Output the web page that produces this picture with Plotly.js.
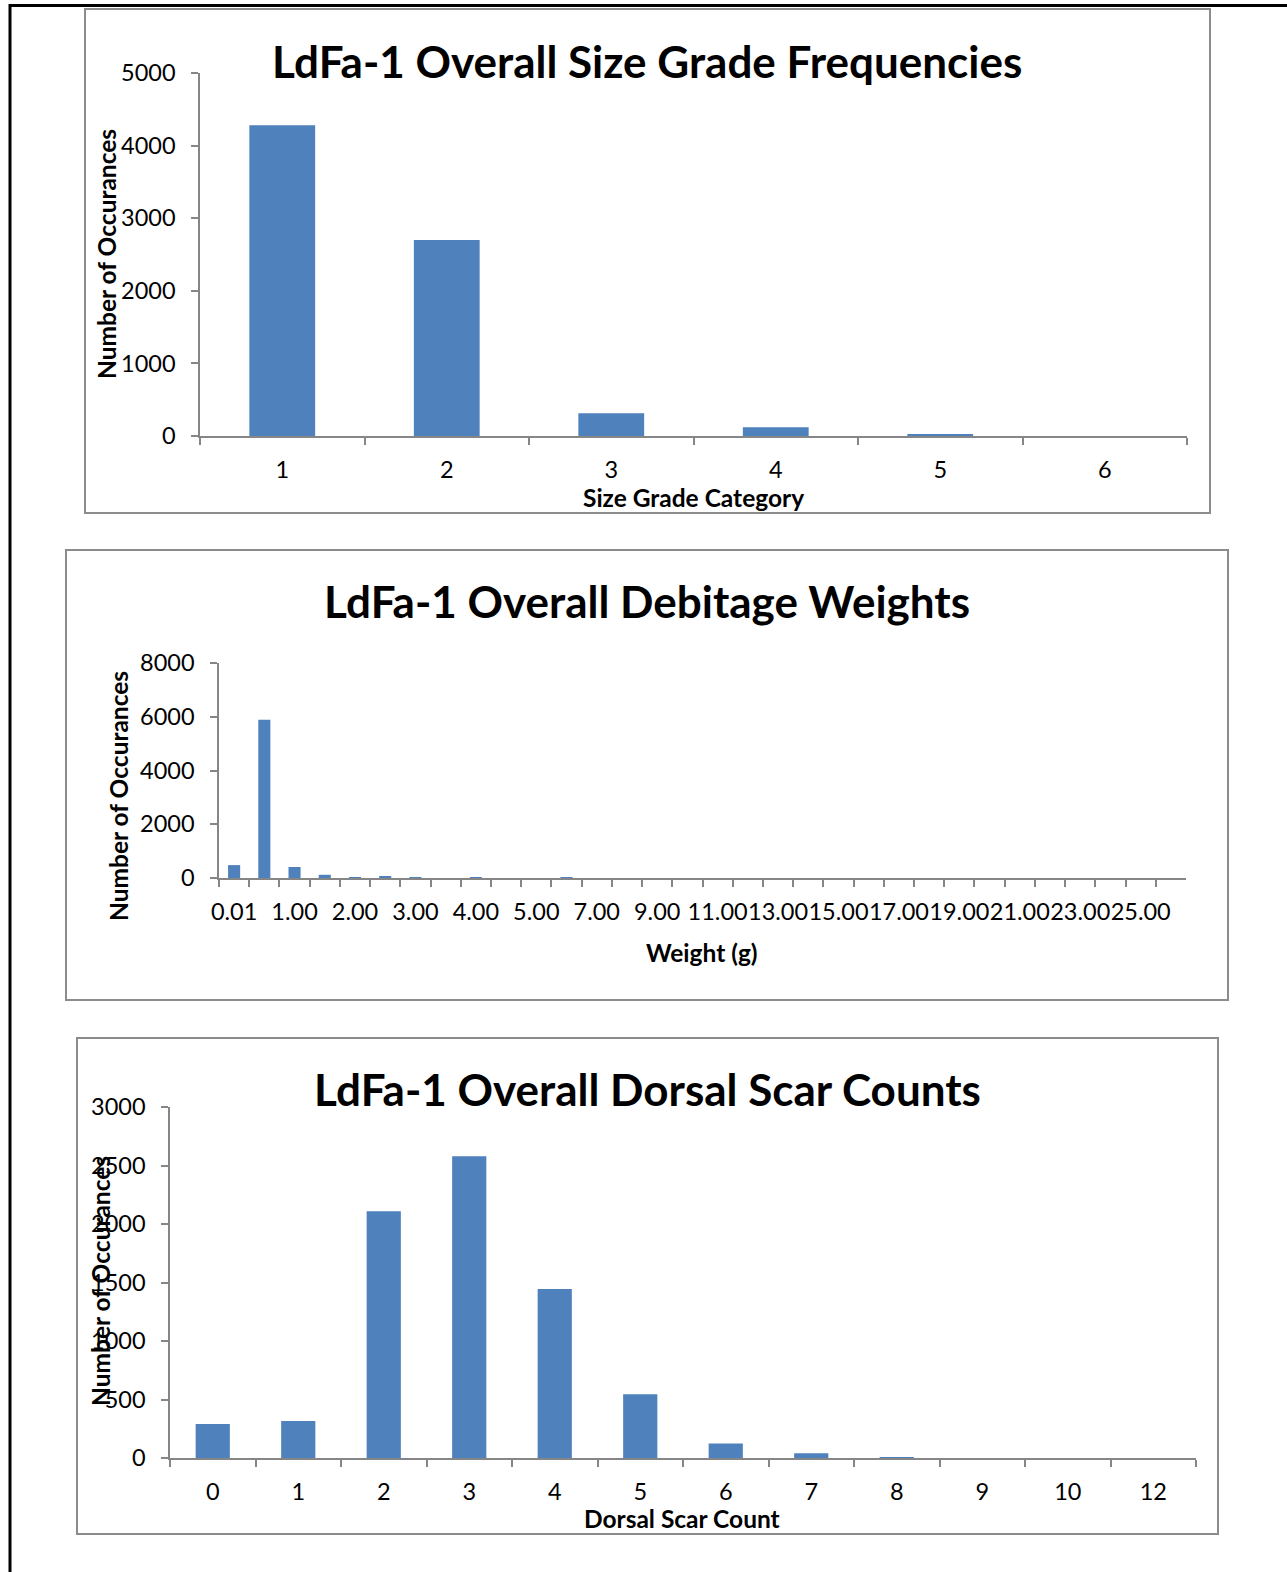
<!DOCTYPE html>
<html>
<head>
<meta charset="utf-8">
<script src="https://cdn.plot.ly/plotly-3.0.1.min.js"></script>
<style>
  html, body { margin: 0; padding: 0; background: #ffffff; }
  #chart { width: 1287px; height: 1572px; }
</style>
</head>
<body>
<div id="chart"></div>
<script>
// ---------- DATA ----------
const sizeGradeCategories = ['1', '2', '3', '4', '5', '6'];
const sizeGradeCounts = [4280, 2700, 315, 120, 25, 0];

const weightCategories = ['0.01', '0.50', '1.00', '1.50', '2.00', '2.50', '3.00', '3.50',
  '4.00', '4.50', '5.00', '6.00', '7.00', '8.00', '9.00', '10.00', '11.00', '12.00',
  '13.00', '14.00', '15.00', '16.00', '17.00', '18.00', '19.00', '20.00', '21.00',
  '22.00', '23.00', '24.00', '25.00', 'More'];
const weightCounts = [480, 5890, 410, 120, 35, 45, 35, 0, 8, 0, 0, 6, 0, 0, 0, 0, 0, 0,
  0, 0, 0, 0, 0, 0, 0, 0, 0, 0, 0, 0, 0, 0];
const weightTickLabels = ['0.01', '', '1.00', '', '2.00', '', '3.00', '', '4.00', '',
  '5.00', '', '7.00', '', '9.00', '', '11.00', '', '13.00', '', '15.00', '', '17.00', '',
  '19.00', '', '21.00', '', '23.00', '', '25.00', ''];

const scarCategories = ['0', '1', '2', '3', '4', '5', '6', '7', '8', '9', '10', '12'];
const scarCounts = [290, 317, 2110, 2580, 1445, 545, 125, 40, 8, 0, 0, 0];

const chartTitles = ['LdFa-1 Overall Size Grade Frequencies', 'LdFa-1 Overall Debitage Weights', 'LdFa-1 Overall Dorsal Scar Counts'];
const xTitles = ['Size Grade Category', 'Weight (g)', 'Dorsal Scar Count'];
const yTitle = 'Number of Occurances';

// ---------- LAYOUT HELPERS ----------
const W = 1287, H = 1572;
const px = x => x / W;
const py = y => 1 - y / H;

const FONT = 'Lato, "Open Sans", "Liberation Sans", sans-serif';
const BAR = '#4F81BD';
const AX = '#868686';

function yax(dom, range, dtick, anchor) {
  return {
    domain: dom, range: range, dtick: dtick, tick0: 0, anchor: anchor,
    showline: true, linecolor: AX, linewidth: 1.5,
    ticks: 'outside', ticklen: 7, tickcolor: AX, tickwidth: 1.5,
    showgrid: false, zeroline: false, fixedrange: true,
    tickfont: { family: FONT, size: 23.5, color: '#000' },
    ticklabelstandoff: 11
  };
}
function xax(dom, anchor, extra) {
  return Object.assign({
    domain: dom, anchor: anchor, type: 'category',
    showline: true, linecolor: AX, linewidth: 2,
    ticks: 'outside', ticklen: 7, tickcolor: AX, tickwidth: 1.5,
    tickson: 'boundaries', tickangle: 0,
    showgrid: false, zeroline: false, fixedrange: true,
    tickfont: { family: FONT, size: 23.5, color: '#000' },
    ticklabelstandoff: 12
  }, extra || {});
}

const traces = [
  { type: 'bar', x: sizeGradeCategories, y: sizeGradeCounts, xaxis: 'x', yaxis: 'y',
    marker: { color: BAR }, hoverinfo: 'x+y' },
  { type: 'bar', x: weightCategories, y: weightCounts, xaxis: 'x2', yaxis: 'y2',
    marker: { color: BAR }, hoverinfo: 'x+y' },
  { type: 'bar', x: scarCategories, y: scarCounts, xaxis: 'x3', yaxis: 'y3',
    marker: { color: BAR }, hoverinfo: 'x+y' }
];

const boxLine = { color: '#8c8c8c', width: 2 };
const shapes = [
  { type: 'rect', xref: 'paper', yref: 'paper', x0: px(85), x1: px(1210), y0: py(513), y1: py(9), line: boxLine },
  { type: 'rect', xref: 'paper', yref: 'paper', x0: px(66), x1: px(1228), y0: py(1000), y1: py(550), line: boxLine },
  { type: 'rect', xref: 'paper', yref: 'paper', x0: px(77), x1: px(1218), y0: py(1534), y1: py(1038), line: boxLine },
  { type: 'path', xref: 'paper', yref: 'paper',
    path: `M ${px(10)} ${py(1572)} L ${px(10)} ${py(5.5)} L ${px(1287)} ${py(5.5)}`,
    line: { color: '#000', width: 3 } }
];

function ann(text, x, y, size, bold, rot) {
  return { text: bold ? '<b>' + text + '</b>' : text, xref: 'paper', yref: 'paper',
    x: px(x), y: py(y), xanchor: 'center', yanchor: 'middle', showarrow: false,
    textangle: rot || 0, font: { family: FONT, size: size, color: '#000' } };
}

const annotations = [
  ann(chartTitles[0], 647, 61, 44, true),
  ann(chartTitles[1], 647, 601, 44, true),
  ann(chartTitles[2], 647, 1089, 44, true),
  ann(xTitles[0], 693, 497, 24.5, true),
  ann(xTitles[1], 702, 952, 24.5, true),
  ann(xTitles[2], 682, 1518, 24.5, true),
  ann(yTitle, 106, 254, 24.5, true, -90),
  ann(yTitle, 118, 796, 24.5, true, -90),
  ann(yTitle, 100, 1281, 24.5, true, -90)
];

const layout = {
  width: W, height: H,
  margin: { l: 0, r: 0, t: 0, b: 0 },
  paper_bgcolor: '#fff', plot_bgcolor: 'rgba(0,0,0,0)',
  showlegend: false, bargap: 0.6,
  font: { family: FONT, color: '#000' },
  xaxis: xax([px(200), px(1187)], 'y'),
  yaxis: yax([py(436), py(73)], [0, 5000], 1000, 'x'),
  xaxis2: xax([px(219), px(1186)], 'y2', { tickmode: 'array', tickvals: weightCategories, ticktext: weightTickLabels }),
  yaxis2: yax([py(878), py(663)], [0, 8000], 2000, 'x2'),
  xaxis3: xax([px(170), px(1196)], 'y3'),
  yaxis3: yax([py(1458), py(1107)], [0, 3000], 500, 'x3'),
  shapes: shapes,
  annotations: annotations
};

Plotly.newPlot('chart', traces, layout, { displayModeBar: false, responsive: false });
</script>
</body>
</html>
